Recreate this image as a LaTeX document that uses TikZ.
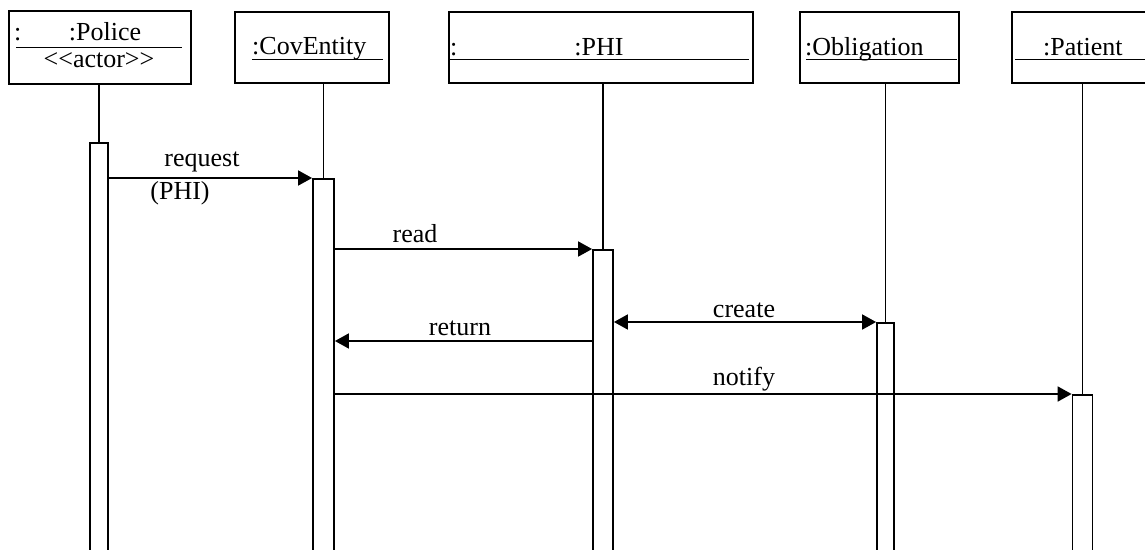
\documentclass[tikz,border=0pt]{standalone}
\usepackage{fontspec}
\setmainfont{Liberation Serif}
\usetikzlibrary{arrows.meta}
\begin{document}
\begin{tikzpicture}[x=1pt,y=-1pt,
  hdr/.style={draw,line width=2.2pt,inner sep=0pt},
  act/.style={draw,line width=1.8pt,anchor=north,minimum width=20pt,minimum height=200pt,inner sep=0pt},
  life/.style={line width=1.8pt},
  uline/.style={line width=1pt},
  msg/.style={line width=1.8pt,-{Triangle[length=14pt,width=15pt]}},
  msgboth/.style={line width=1.8pt,{Triangle[length=14pt,width=15pt]}-{Triangle[length=14pt,width=15pt]}},
  txt/.style={inner sep=0pt,font=\fontsize{26}{30}\selectfont,anchor=base},
  txtw/.style={txt,anchor=base west}]
\useasboundingbox (0,0) rectangle (1145,549);
% header boxes
\node[hdr,minimum width=182pt,minimum height=73pt,anchor=north west] (hPol) at (8,10) {};
\node[hdr,minimum width=154pt,minimum height=71pt,anchor=north west] (hCov) at (234,11) {};
\node[hdr,minimum width=304pt,minimum height=71pt,anchor=north west] (hPHI) at (448,11) {};
\node[hdr,minimum width=159pt,minimum height=71pt,anchor=north west] (hObl) at (799,11) {};
\node[hdr,minimum width=160pt,minimum height=71pt,anchor=north west] (hPat) at (1011,11) {};
% header texts
\node[txtw] (tPol1) at (14,40) {:};
\node[txt] (tPol2) at (105,40) {:Police};
\draw[uline] (16,47) -- (182,47);
\node[txt] (tPol3) at (99,67) {<\kern0pt<actor>\kern0pt>};
\node[txtw] (tCov) at (252,54) {:CovEntity};
\draw[uline] (252,59) -- (383,59);
\node[txtw] (tPHI1) at (450,55) {:};
\node[txt] (tPHI2) at (599,55) {:PHI};
\draw[uline] (450,59) -- (749,59);
\node[txtw] (tObl) at (805,55) {:Obligation};
\draw[uline] (806,59) -- (957,59);
\node[txtw] (tPat) at (1043,55) {:Patient};
\draw[uline] (1015,59) -- (1150,59);
% activation boxes
\node[act,minimum width=18pt,minimum height=420pt] (aPol) at (99,142) {};
\node[act,minimum width=21pt,minimum height=380pt] (aCov) at (323.5,178) {};
\node[act,minimum height=310pt] (aPHI) at (603,249) {};
\node[act,minimum width=17pt,minimum height=240pt] (aObl) at (885.5,322) {};
\node[act,minimum height=170pt] (aPat) at (1082.5,394) {};
% lifelines
\draw[life] (aPol.north |- hPol.south) -- (aPol.north);
\draw[life] (aCov.north |- hCov.south) -- (aCov.north);
\draw[life] (aPHI.north |- hPHI.south) -- (aPHI.north);
\draw[life] (aObl.north |- hObl.south) -- (aObl.north);
\draw[life] (aPat.north |- hPat.south) -- (aPat.north);
% messages
\coordinate (retY) at (0,341);
\draw[msg] (aPol.east |- aCov.north) -- (aCov.north west);
\node[txt] (lReq) at (202,166) {request};
\node[txt] (lReq2) at (180,199) {(PHI)};
\draw[msg] (aCov.east |- aPHI.north) -- (aPHI.north west);
\node[txt] (lRead) at (415,242) {read};
\draw[msgboth] (aPHI.east |- aObl.north) -- (aObl.north west);
\node[txt] (lCreate) at (744,317) {create};
\draw[msg] (aPHI.west |- retY) -- (aCov.east |- retY);
\node[txt] (lRet) at (460,335) {return};
\draw[msg] (aCov.east |- aPat.north) -- (aPat.north west);
\node[txt] (lNot) at (744,385) {notify};
\end{tikzpicture}
\end{document}
